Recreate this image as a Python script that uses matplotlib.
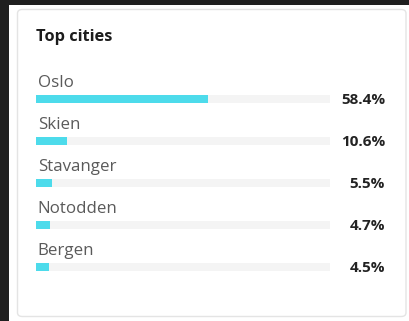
import matplotlib

matplotlib.use("Agg")
import matplotlib.pyplot as plt
from matplotlib.patches import FancyBboxPatch, Rectangle
from matplotlib.transforms import blended_transform_factory

cities = ["Oslo", "Skien", "Stavanger", "Notodden", "Bergen"]
shares = [58.4, 10.6, 5.5, 4.7, 4.5]

W, H = 410, 321
DPI = 100
plt.rcParams["font.family"] = ["Open Sans", "DejaVu Sans"]

fig = plt.figure(figsize=(W / DPI, H / DPI), dpi=DPI, facecolor="white")


def px(x0, y0, x1, y1):
    # pixel box (top-left origin) -> figure fraction rect
    return [x0 / W, 1 - y1 / H, (x1 - x0) / W, (y1 - y0) / H]


# dark frame strips behind the card
fig.patches.append(Rectangle((0, 0), 8.5 / W, 1, transform=fig.transFigure,
                             facecolor="#1f1f1f", edgecolor="none", zorder=0))
fig.patches.append(Rectangle((0, 1 - 4.5 / H), 1, 4.5 / H, transform=fig.transFigure,
                             facecolor="#1f1f1f", edgecolor="none", zorder=0))

# card
cx0, cy0, cx1, cy1 = 17.5, 9.5, 406, 316.5
fig.patches.append(FancyBboxPatch(
    (cx0 / W, 1 - cy1 / H), (cx1 - cx0) / W, (cy1 - cy0) / H,
    boxstyle="round,pad=0,rounding_size=0.012", transform=fig.transFigure,
    facecolor="white", edgecolor="#e4e4e4", linewidth=1.0, zorder=1))

fig.text(36 / W, 1 - 37 / H, "Top cities", fontsize=11.8, fontweight="bold",
         color="#1c1c1c", va="center", ha="left", zorder=3)

ax = fig.add_axes(px(36, 78, 330, 288))
ax.set_zorder(2)
ax.set_xlim(0, 100)
ax.set_ylim(len(cities) - 0.5, -0.5)
ax.axis("off")

rows = list(range(len(cities)))
bar_h = 8 / 42
ax.barh(rows, [100] * len(rows), height=bar_h, color="#f4f4f4", zorder=1)
ax.barh(rows, shares, height=bar_h, color="#4ddbeb", zorder=2)

val_tr = blended_transform_factory(fig.transFigure, ax.transData)
for i, (city, share) in enumerate(zip(cities, shares)):
    ax.text(0.6, i - 0.39, city, fontsize=12.2, color="#5a5a5a",
            va="center", ha="left", clip_on=False)
    ax.text(385 / W, i + 0.02, f"{share}%", transform=val_tr, fontsize=11,
            fontweight="bold", color="#222222", va="center", ha="right",
            clip_on=False)

fig.savefig("out.png", dpi=DPI, facecolor="white")
